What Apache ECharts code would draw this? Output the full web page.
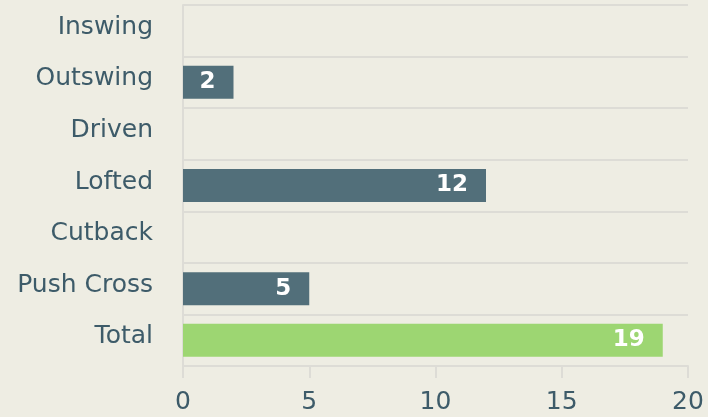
<!DOCTYPE html>
<html>
<head>
<meta charset="utf-8">
<script src="https://cdn.jsdelivr.net/npm/echarts@6/dist/echarts.min.js"></script>
<style>
  html, body { margin: 0; padding: 0; background: #eeede3; }
  #chart { width: 708px; height: 417px; }
</style>
</head>
<body>
<div id="chart"></div>
<script>
// categories top to bottom
let categories = ['Inswing', 'Outswing', 'Driven', 'Lofted', 'Cutback', 'Push Cross', 'Total'];
let values = [0, 2, 0, 12, 0, 5, 19];
let xTicks = [0, 5, 10, 15, 20];

let textColor = '#3d5b69';
let barColor = '#526f7a';
let totalColor = '#9dd672';
let lineColor = '#dddcd6';
let font = '"DejaVu Sans", sans-serif';

let chart = echarts.init(document.getElementById('chart'));

let data = values.map((v, i) => {
  let isTotal = categories[i] === 'Total';
  return {
    value: v,
    itemStyle: { color: isTotal ? totalColor : barColor },
    label: { show: v > 0 }
  };
});

let option = {
  backgroundColor: '#eeede3',
  textStyle: { fontFamily: font },
  grid: { left: 183, right: 20, top: 5, bottom: 51 },
  xAxis: {
    type: 'value',
    min: xTicks[0],
    max: xTicks[xTicks.length - 1],
    interval: 5,
    axisLine: { show: true, lineStyle: { color: lineColor, width: 2 } },
    axisTick: { show: true, length: 12, lineStyle: { color: lineColor, width: 2 } },
    splitLine: { show: false },
    axisLabel: { color: textColor, fontSize: 25, margin: 24, fontFamily: font }
  },
  yAxis: {
    type: 'category',
    data: categories,
    inverse: true,
    axisLine: { show: true, lineStyle: { color: lineColor, width: 2 } },
    axisTick: { show: false },
    splitLine: { show: true, lineStyle: { color: lineColor, width: 2 } },
    axisLabel: {
      color: textColor, fontSize: 25, margin: 30, fontFamily: font,
      verticalAlign: 'bottom',
      lineHeight: 7
    }
  },
  series: [{
    type: 'bar',
    data,
    barCategoryGap: '36%',
    label: {
      position: 'insideRight',
      distance: 18,
      color: '#ffffff',
      fontSize: 23,
      fontWeight: 'bold',
      fontFamily: font
    }
  }]
};

chart.setOption(option);
</script>
</body>
</html>
